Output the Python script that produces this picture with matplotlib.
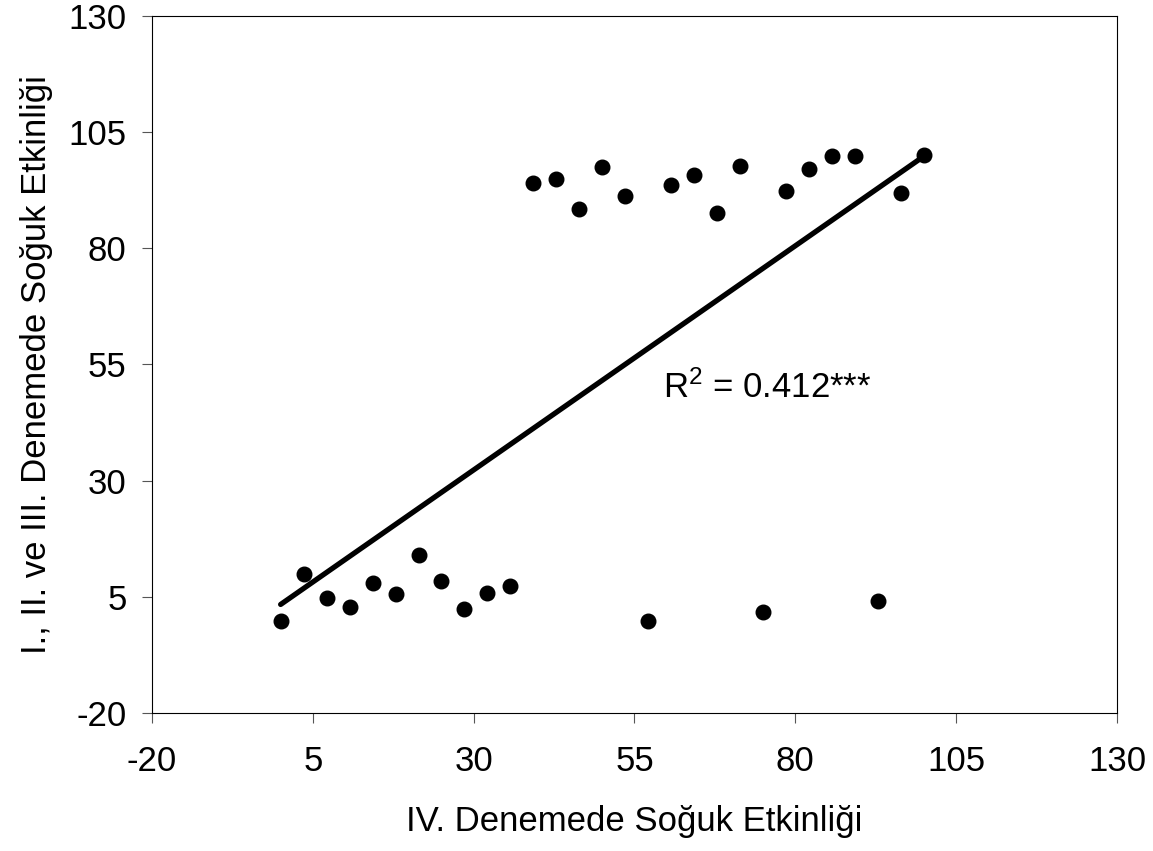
import matplotlib.pyplot as plt
import numpy as np

plt.rcParams['font.family'] = ['Liberation Sans', 'DejaVu Sans']
plt.rcParams['mathtext.default'] = 'regular'
plt.rcParams['axes.unicode_minus'] = False

# IV. deneme (x) vs I., II. ve III. deneme (y)
x = [0.0, 3.57, 7.14, 10.71, 14.29, 17.86, 21.43, 25.0, 28.57, 32.14,
     35.71, 39.29, 42.86, 46.43, 50.0, 53.57, 57.14, 60.71, 64.29, 67.86,
     71.43, 75.0, 78.57, 82.14, 85.71, 89.29, 92.86, 96.43, 100.0]
y = [-0.2, 9.9, 4.8, 2.7, 7.9, 5.6, 14.1, 8.4, 2.4, 5.9,
     7.4, 94.1, 94.9, 88.4, 97.4, 91.3, -0.1, 93.6, 95.8, 87.5,
     97.8, 1.8, 92.4, 97.0, 99.9, 99.9, 4.0, 91.8, 100.0]
ticks = [-20, 5, 30, 55, 80, 105, 130]

fig = plt.figure(figsize=(11.53, 8.51), dpi=100)
ax = fig.add_axes([0.1318, 0.1622, 0.837, 0.819])

ax.scatter(x, y, s=110, color='black', zorder=3)

# dogrusal regresyon
m, b = np.polyfit(x, y, 1)
xl = np.array([min(x), max(x)])
ax.plot(xl, m * xl + b, color='black', linewidth=3.8, solid_capstyle='round')

ax.text(59.5, 50, 'R$^2$ = 0.412***', fontsize=25, va='center')

ax.set_xlim(-20, 130)
ax.set_ylim(-20, 130)
ax.set_xticks(ticks)
ax.set_yticks(ticks)
ax.tick_params(direction='out', length=7.2, labelsize=25, color='#555555')
ax.tick_params(axis='x', pad=16)
ax.tick_params(axis='y', pad=11)
ax.set_xlabel('IV. Denemede Soğuk Etkinliği', fontsize=25, labelpad=19)
ax.set_ylabel('I., II. ve III. Denemede Soğuk Etkinliği', fontsize=25, labelpad=11)

fig.savefig('out.png', dpi=100)
